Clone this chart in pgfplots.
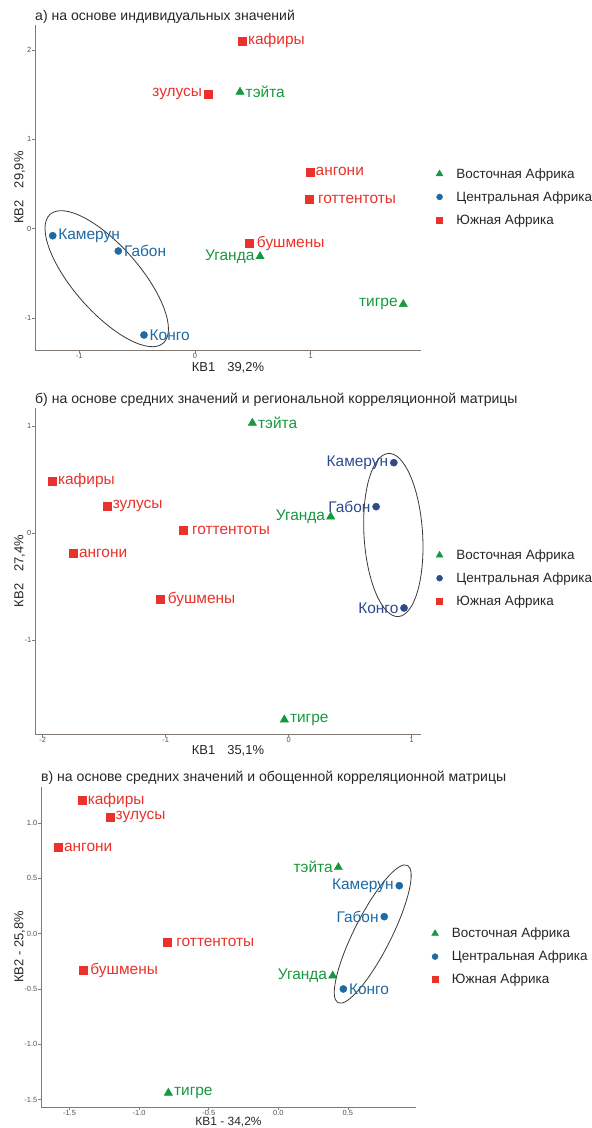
\documentclass[border=0pt]{standalone}
\usepackage{pgfplots}
\pgfplotsset{compat=1.18}
\usepackage{pgfplotstable}
\usepackage{fontspec}
\setmainfont{Liberation Sans}

\definecolor{cred}{RGB}{232,50,43}
\definecolor{cgreen}{RGB}{22,153,62}
\definecolor{cblue}{RGB}{31,106,163}
\definecolor{cnavy}{RGB}{45,75,140}
\definecolor{axgray}{RGB}{130,122,115}
\definecolor{tickgray}{RGB}{80,80,80}
\definecolor{ellgray}{RGB}{60,55,50}

% ---------- panel a ----------
\pgfplotstableread{
x y label
0.389 1.531 тэйта
}\eastAr
\pgfplotstableread{
x y label
0.562 -0.309 Уганда
1.800 -0.845 тигре
}\eastAl
\pgfplotstableread{
x y label
-1.230 -0.078 Камерун
-0.663 -0.249 Габон
-0.441 -1.189 Конго
}\centAr
\pgfplotstableread{
x y label
0.409 2.103 кафиры
0.994 0.638 ангони
0.988 0.329 \hspace{3bp}готтентоты
0.469 -0.164 \hspace{2bp}бушмены
}\southAr
\pgfplotstableread{
x y label
0.110 1.507 зулусы
}\southAl
% ---------- panel b ----------
\pgfplotstableread{
x y label
-0.296 1.031 тэйта
-0.036 -1.742 тигре
}\eastBr
\pgfplotstableread{
x y label
0.341 0.155 Уганда
}\eastBl
\pgfplotstableread{
x y label
0.854 0.660 Камерун
0.710 0.249 Габон
0.937 -0.698 Конго
}\centBl
\pgfplotstableread{
x y label
-1.922 0.489 кафиры
-1.477 0.252 зулусы
-0.857 0.028 \hspace{3bp}готтентоты
-1.751 -0.184 ангони
-1.046 -0.614 \hspace{2bp}бушмены
}\southBr
% ---------- panel c ----------
\pgfplotstableread{
x y label
-0.790 -1.440 тигре
}\eastCr
\pgfplotstableread{
x y label
0.431 0.600 тэйта\hspace{5bp}
0.391 -0.380 Уганда
}\eastCl
\pgfplotstableread{
x y label
0.869 0.434 Камерун
0.761 0.154 Габон
}\centCl
\pgfplotstableread{
x y label
0.467 -0.500 Конго
}\centCr
\pgfplotstableread{
x y label
-1.410 1.203 кафиры
-1.209 1.052 зулусы
-1.580 0.778 ангони
-0.795 -0.081 \hspace{3bp}готтентоты
-1.405 -0.328 \hspace{2bp}бушмены
}\southCr

\pgfplotsset{
  mypanel/.style={
    scale only axis, clip=false,
    axis x line*=bottom, axis y line*=left,
    axis line style={axgray, line width=0.8bp},
    tick align=outside, major tick length=2.5bp,
    tick style={axgray, line width=0.6bp},
    ticklabel style={font=\fontsize{7.5}{8.5}\selectfont, text=tickgray, inner sep=1bp},
    /pgf/number format/assume math mode=true,
    every axis title/.style={at={(axis description cs:0,1)}, anchor=west, yshift=8.5bp, inner sep=0pt, font=\fontsize{14.1}{16}\selectfont, text=black!85},
    legend image code/.code={\draw[mark repeat=2,mark phase=2,##1] plot coordinates {(0bp,0bp) (5bp,0bp) (10bp,0bp)};},
    legend style={draw=none, fill=none, anchor=west, xshift=15bp, inner sep=0pt,
      nodes={inner sep=2bp}, column sep=11.5bp, row sep=7.8bp,
      font=\fontsize{13.5}{16}\selectfont, text=black!85},
    legend cell align=left,
  },
  xlab/.style 2 args={every axis x label/.style={at={(axis description cs:0.5,#1)}, anchor=center,
      font=\fontsize{#2}{15}\selectfont, text=black!85}},
  ylab/.style={every axis y label/.style={at={(axis description cs:#1,0.5)}, rotate=90, anchor=center,
      font=\fontsize{13}{15}\selectfont, text=black!85}},
  lblr/.style={only marks, nodes near coords, point meta=explicit symbolic,
    nodes near coords style={anchor=west, inner sep=0pt, inner xsep=5.5bp, text=#1,
      font=\fontsize{15.5}{17}\selectfont}},
  lbll/.style={only marks, nodes near coords, point meta=explicit symbolic,
    nodes near coords style={anchor=east, inner sep=0pt, inner xsep=5.5bp, text=#1,
      font=\fontsize{15.5}{17}\selectfont}},
  eastp/.style={mark=triangle*, mark size=4.8bp, color=cgreen,
    legend image post style={mark size=3.9bp}},
  centp/.style={mark=*, mark size=3.6bp, color=#1,
    legend image post style={mark size=3bp}},
  southp/.style={mark=square*, mark size=4bp, color=cred,
    legend image post style={mark size=3bp}},
}

\begin{document}
\begin{tikzpicture}
% ===== a =====
\begin{axis}[mypanel, at={(35bp,-350bp)}, anchor=south west,
  width=386bp, height=325bp,
  xmin=-1.383, xmax=1.953, ymin=-1.357, ymax=2.28,
  xtick={-1,0,1}, ytick={-1,0,1,2},
  title={а) на основе индивидуальных значений},
  xlabel={КВ1\hspace{12bp}39,2\%}, ylabel={КВ2\hspace{12bp}29,9\%},
  xlab={-0.056}{13}, ylab=-0.04,
  legend style={at={(1,0.471)}}]
\draw[ellgray, line width=0.8bp] (axis cs:-0.763,-0.559) ellipse [x radius=85.7bp, y radius=33bp, rotate=-48.75];
\addplot[eastp, lblr=cgreen] table[x=x,y=y,meta=label]{\eastAr};
\addplot[eastp, lbll=cgreen, forget plot] table[x=x,y=y,meta=label]{\eastAl};
\addplot[centp=cblue, lblr=cblue] table[x=x,y=y,meta=label]{\centAr};
\addplot[southp, lblr=cred] table[x=x,y=y,meta=label]{\southAr};
\addplot[southp, lbll=cred, forget plot] table[x=x,y=y,meta=label]{\southAl};
\legend{Восточная Африка, Центральная Африка, Южная Африка}
\end{axis}
% ===== b =====
\begin{axis}[mypanel, at={(35bp,-734bp)}, anchor=south west,
  width=386bp, height=326bp,
  xmin=-2.063, xmax=1.075, ymin=-1.876, ymax=1.171,
  xtick={-2,-1,0,1}, ytick={-1,0,1},
  title={б) на основе средних значений и региональной корреляционной матрицы},
  xlabel={КВ1\hspace{12bp}35,1\%}, ylabel={КВ2\hspace{12bp}27,4\%},
  xlab={-0.05}{13}, ylab=-0.04,
  legend style={at={(1,0.478)}}]
\draw[ellgray, line width=0.8bp] (axis cs:0.850,-0.016) ellipse [x radius=29.3bp, y radius=81.7bp, rotate=3.5];
\addplot[eastp, lblr=cgreen] table[x=x,y=y,meta=label]{\eastBr};
\addplot[eastp, lbll=cgreen, forget plot] table[x=x,y=y,meta=label]{\eastBl};
\addplot[centp=cnavy, lbll=cnavy] table[x=x,y=y,meta=label]{\centBl};
\addplot[southp, lblr=cred] table[x=x,y=y,meta=label]{\southBr};
\legend{Восточная Африка, Центральная Африка, Южная Африка}
\end{axis}
% ===== c =====
\begin{axis}[mypanel, at={(41bp,-1107.3bp)}, anchor=south west,
  width=375bp, height=320.6bp,
  xmin=-1.705, xmax=0.989, ymin=-1.570, ymax=1.329,
  xtick={-1.5,-1,-0.5,0,0.5}, ytick={-1.5,-1,-0.5,0,0.5,1},
  xticklabel style={inner sep=0.3bp, /pgf/number format/.cd, fixed, fixed zerofill, precision=1},
  yticklabel style={/pgf/number format/.cd, fixed, fixed zerofill, precision=1},
  title={в) на основе средних значений и обощенной корреляционной матрицы},
  xlabel={КВ1 - 34,2\%}, ylabel={КВ2 - 25,8\%},
  xlab={-0.0458}{12}, ylab=-0.057,
  legend style={at={(1,0.470)}, xshift=0.5bp}]
\draw[ellgray, line width=0.8bp] (axis cs:0.678,-0.003) ellipse [x radius=77bp, y radius=18.5bp, rotate=63.2];
\addplot[eastp, lblr=cgreen] table[x=x,y=y,meta=label]{\eastCr};
\addplot[eastp, lbll=cgreen, forget plot] table[x=x,y=y,meta=label]{\eastCl};
\addplot[centp=cblue, lbll=cblue] table[x=x,y=y,meta=label]{\centCl};
\addplot[centp=cblue, lblr=cblue, forget plot] table[x=x,y=y,meta=label]{\centCr};
\addplot[southp, lblr=cred] table[x=x,y=y,meta=label]{\southCr};
\legend{Восточная Африка, Центральная Африка, Южная Африка}
\end{axis}
\pgfresetboundingbox
\path[use as bounding box] (0,0) rectangle (592bp,-1128bp);
\end{tikzpicture}
\end{document}
